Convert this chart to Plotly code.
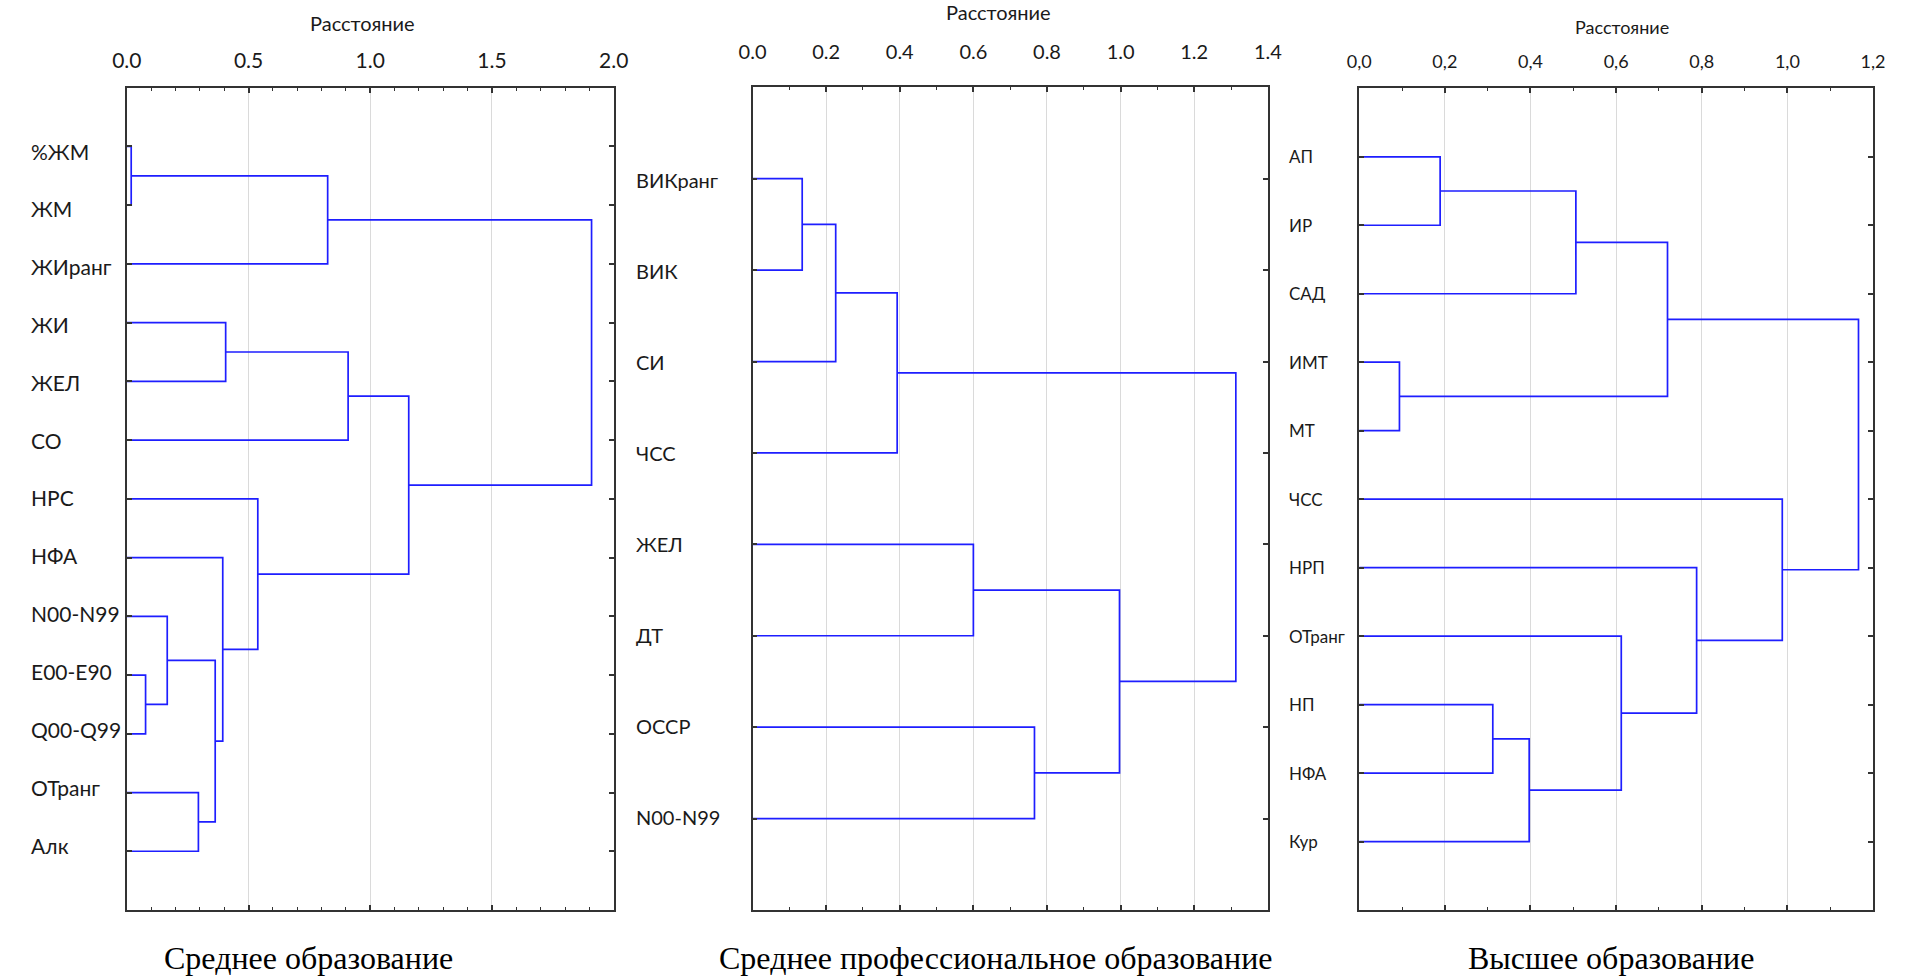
import plotly.graph_objects as go

# ---------------- data ----------------
# Panel 1: secondary education
labels_1 = ["%ЖМ", "ЖМ", "ЖИранг", "ЖИ", "ЖЕЛ", "СО", "НРС", "НФА",
            "N00-N99", "E00-E90", "Q00-Q99", "ОТранг", "Алк"]
# (child_a, child_b, linkage distance); new clusters numbered after the leaves
merges_1 = [(0, 1, 0.018), (9, 10, 0.077), (8, 14, 0.166), (11, 12, 0.294),
            (15, 16, 0.363), (7, 17, 0.394), (3, 4, 0.406), (6, 18, 0.538),
            (13, 2, 0.825), (19, 5, 0.909), (22, 20, 1.158), (21, 23, 1.909)]
ticks_1 = [0.0, 0.5, 1.0, 1.5, 2.0]
ticktext_1 = ["0.0", "0.5", "1.0", "1.5", "2.0"]
caption_1 = "Среднее образование"

# Panel 2: vocational education
labels_2 = ["ВИКранг", "ВИК", "СИ", "ЧСС", "ЖЕЛ", "ДТ", "ОССР", "N00-N99"]
merges_2 = [(0, 1, 0.135), (8, 2, 0.226), (9, 3, 0.393), (4, 5, 0.600),
            (6, 7, 0.766), (11, 12, 0.997), (10, 13, 1.313)]
ticks_2 = [0.0, 0.2, 0.4, 0.6, 0.8, 1.0, 1.2, 1.4]
ticktext_2 = ["0.0", "0.2", "0.4", "0.6", "0.8", "1.0", "1.2", "1.4"]
caption_2 = "Среднее профессиональное образование"

# Panel 3: higher education
labels_3 = ["АП", "ИР", "САД", "ИМТ", "МТ", "ЧСС", "НРП", "ОТранг", "НП", "НФА", "Кур"]
merges_3 = [(3, 4, 0.094), (0, 1, 0.189), (8, 9, 0.312), (13, 10, 0.397),
            (12, 2, 0.506), (7, 14, 0.612), (15, 11, 0.720), (6, 16, 0.788),
            (5, 18, 0.988), (17, 19, 1.166)]
ticks_3 = [0.0, 0.2, 0.4, 0.6, 0.8, 1.0, 1.2]
ticktext_3 = ["0,0", "0,2", "0,4", "0,6", "0,8", "1,0", "1,2"]
caption_3 = "Высшее образование"

axis_title = "Расстояние"

# ---------------- layout constants ----------------
W, H = 1923, 978
LINE_BLUE = "rgb(30,30,255)"
AXIS_DARK = "#333333"
GRID = "#dadada"
TEXT = "#1a1a1a"


def px_x(v):
    return v / W


def px_y(v):
    return 1 - v / H


def dendro_path(labels, merges):
    """Elbow segments of a dendrogram: leaves at x=0, row i+1; clusters at merge height."""
    n = len(labels)
    pos = {i: (0.0, float(i + 1)) for i in range(n)}
    xs, ys = [], []
    for k, (a, b, h) in enumerate(merges):
        xa, ya = pos[a]
        xb, yb = pos[b]
        xs += [xa, h, h, xb, None]
        ys += [ya, ya, yb, yb, None]
        pos[n + k] = (h, (ya + yb) / 2)
    return xs, ys


panels = [
    dict(labels=labels_1, merges=merges_1, ticks=ticks_1, ticktext=ticktext_1,
         caption=caption_1, box=(113.6, 608.2, 87.7, 910), tickfs=21, leaffs=21,
         titlefs=20, label_x=14, label_span=(151, 845), title_xy=(353, 22.7),
         standoff=9, caption_x=298.6),
    dict(labels=labels_2, merges=merges_2, ticks=ticks_2, ticktext=ticktext_2,
         caption=caption_2, box=(749.2, 1272.7, 87.3, 910), tickfs=20, leaffs=20,
         titlefs=20, label_x=628.7, label_span=(180, 817), title_xy=(999.5, 12.3),
         standoff=18, caption_x=996.9),
    dict(labels=labels_3, merges=merges_3, ticks=ticks_3, ticktext=ticktext_3,
         caption=caption_3, box=(1365.5, 1887.5, 88.3, 910), tickfs=18, leaffs=17,
         titlefs=18, label_x=1292, label_span=(156.7, 841.7), title_xy=(1632, 26.7),
         standoff=11, caption_x=1621),
]

fig = go.Figure()
annotations = []
layout_axes = {}

for i, p in enumerate(panels, start=1):
    sx = "" if i == 1 else str(i)
    xs, ys = dendro_path(p["labels"], p["merges"])
    fig.add_trace(go.Scatter(
        x=xs, y=ys, mode="lines", xaxis="x" + sx, yaxis="y" + sx,
        line=dict(color=LINE_BLUE, width=1.7), hoverinfo="skip", showlegend=False,
    ))
    x0, x1, y0, y1 = p["box"]
    n = len(p["labels"])
    layout_axes["xaxis" + sx] = dict(
        domain=[px_x(x0), px_x(x1)], range=[p["ticks"][0], p["ticks"][-1]],
        side="top", anchor="y" + sx,
        tickmode="array", tickvals=p["ticks"], ticktext=p["ticktext"],
        ticks="inside", ticklen=5, tickwidth=1.5, tickcolor=AXIS_DARK,
        showline=True, linecolor=AXIS_DARK, linewidth=1.7, mirror="ticks",
        showgrid=True, gridcolor=GRID, gridwidth=1, zeroline=False,
        minor=dict(dtick=0.1, tick0=0, ticks="inside", ticklen=3,
                   tickwidth=1.2, tickcolor=AXIS_DARK, showgrid=False),
        tickfont=dict(family="Lato", size=p["tickfs"], color=TEXT),
        ticklabelstandoff=p["standoff"], fixedrange=True,
    )
    layout_axes["yaxis" + sx] = dict(
        domain=[px_y(y1), px_y(y0)], range=[n + 1, 0], anchor="x" + sx,
        tickmode="array", tickvals=list(range(1, n + 1)),
        ticks="inside", ticklen=5, tickwidth=1.5, tickcolor=AXIS_DARK,
        showticklabels=False, showline=True, linecolor=AXIS_DARK, linewidth=1.7,
        mirror="ticks", showgrid=False, zeroline=False, fixedrange=True,
    )
    # leaf labels, left aligned, evenly spread over the label column
    top, bottom = p["label_span"]
    step = (bottom - top) / (n - 1)
    for j, lab in enumerate(p["labels"]):
        annotations.append(dict(
            text=lab, x=px_x(p["label_x"]), xref="paper", xanchor="left",
            y=px_y(top + j * step), yref="paper", yanchor="middle",
            showarrow=False,
            font=dict(family="Lato", size=p["leaffs"], color=TEXT),
        ))
    # axis title
    tx, ty = p["title_xy"]
    annotations.append(dict(
        text=axis_title, x=px_x(tx), y=px_y(ty), xref="paper", yref="paper",
        xanchor="center", yanchor="middle", showarrow=False,
        font=dict(family="Lato", size=p["titlefs"], color=TEXT),
    ))
    # caption under the panel
    annotations.append(dict(
        text=p["caption"], x=px_x(p["caption_x"]), y=px_y(958), xref="paper",
        yref="paper", xanchor="center", yanchor="middle", showarrow=False,
        font=dict(family="Liberation Serif", size=32, color="#000000"),
    ))

fig.update_layout(
    width=W, height=H, margin=dict(l=0, r=0, t=0, b=0),
    paper_bgcolor="white", plot_bgcolor="white",
    annotations=annotations, showlegend=False, **layout_axes,
)

fig.write_html("out.html", config={"displayModeBar": False})
